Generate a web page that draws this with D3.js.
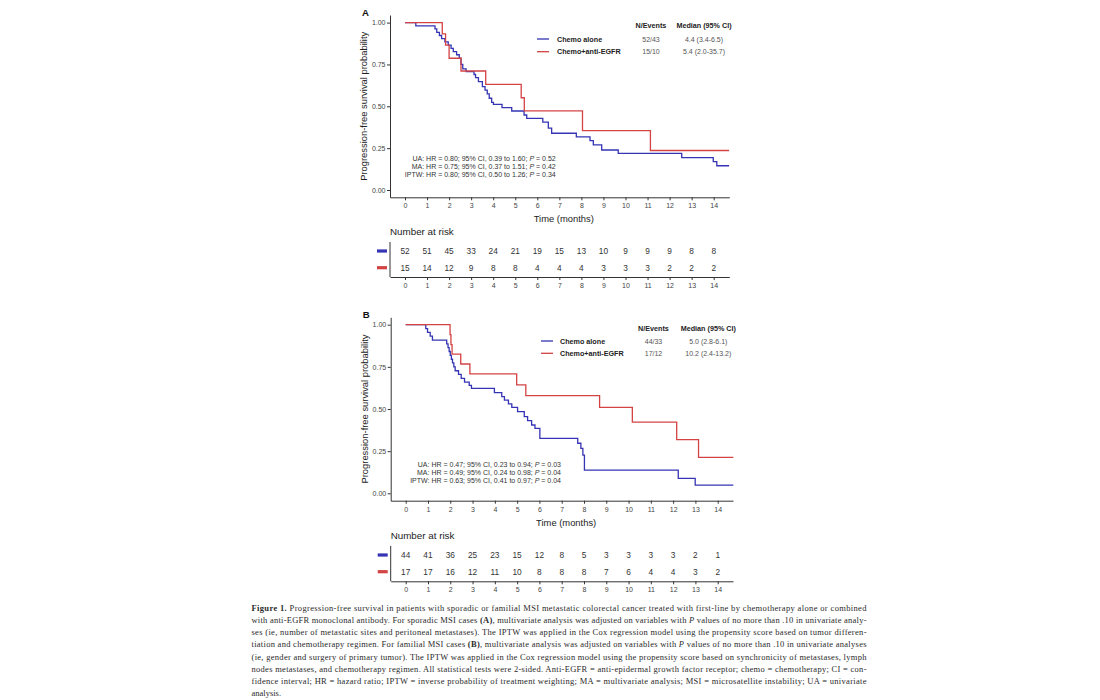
<!DOCTYPE html>
<html>
<head>
<meta charset="utf-8">
<script src="https://cdn.jsdelivr.net/npm/d3@7"></script>
<style>
  body { margin: 0; background: #fff; }
  svg text { font-family: "Liberation Sans", Arial, sans-serif; }
</style>
</head>
<body>
<svg id="fig" width="1100" height="700"></svg>
<script>
// ---- data ----
const timeTicks = [0, 1, 2, 3, 4, 5, 6, 7, 8, 9, 10, 11, 12, 13, 14];
const probTicks = [0, 0.25, 0.5, 0.75, 1];
const groups = ["Chemo alone", "Chemo+anti-EGFR"];

// panel A (sporadic MSI)
const aChemoTime = [0, 0.49, 1.36, 1.44, 1.56, 1.66, 1.81, 1.96, 2.09, 2.19, 2.34, 2.46, 2.54, 2.62, 2.77, 3.13, 3.20, 3.33, 3.51, 3.63, 3.73, 3.82, 3.93, 4.01, 4.40, 4.84, 5.40, 5.52, 6.25, 6.50, 6.65, 7.77, 8.39, 8.54, 8.92, 9.67, 12.55, 13.98, 14.14, 14.70];
const aChemoSurv = [1, 0.981, 0.962, 0.942, 0.923, 0.904, 0.885, 0.865, 0.846, 0.827, 0.808, 0.788, 0.75, 0.723, 0.707, 0.69, 0.671, 0.647, 0.617, 0.597, 0.574, 0.548, 0.523, 0.512, 0.492, 0.472, 0.448, 0.428, 0.405, 0.37, 0.339, 0.317, 0.295, 0.269, 0.239, 0.219, 0.193, 0.169, 0.145, 0.145];
const aEgfrTime = [0, 1.69, 1.84, 2.0, 2.54, 3.66, 5.27, 5.41, 8.05, 11.13, 14.70];
const aEgfrSurv = [1, 0.933, 0.866, 0.787, 0.711, 0.631, 0.551, 0.473, 0.355, 0.236, 0.236];
const aEvents = ["52/43", "15/10"];
const aMedian = ["4.4 (3.4-6.5)", "5.4 (2.0-35.7)"];
const aRiskChemo = [52, 51, 45, 33, 24, 21, 19, 15, 13, 10, 9, 9, 9, 8, 8];
const aRiskEgfr = [15, 14, 12, 9, 8, 8, 4, 4, 4, 3, 3, 3, 2, 2, 2];
const aStats = [
  "UA: HR = 0.80; 95% CI, 0.39 to 1.60; _P_ = 0.52",
  "MA: HR = 0.75; 95% CI, 0.37 to 1.51; _P_ = 0.42",
  "IPTW: HR = 0.80; 95% CI, 0.50 to 1.26; _P_ = 0.34"
];

// panel B (familial MSI)
const bChemoTime = [0, 0.90, 0.98, 1.10, 1.20, 1.84, 1.90, 1.95, 2.00, 2.05, 2.10, 2.16, 2.22, 2.37, 2.49, 2.64, 2.85, 2.95, 3.98, 4.31, 4.43, 4.61, 4.76, 5.02, 5.32, 5.47, 5.65, 5.80, 6.02, 7.72, 7.86, 7.95, 8.02, 12.23, 12.99, 14.70];
const bChemoSurv = [1, 0.977, 0.955, 0.932, 0.909, 0.886, 0.864, 0.841, 0.818, 0.795, 0.773, 0.75, 0.727, 0.705, 0.682, 0.659, 0.64, 0.622, 0.597, 0.573, 0.553, 0.53, 0.51, 0.484, 0.455, 0.431, 0.405, 0.385, 0.326, 0.297, 0.267, 0.227, 0.138, 0.088, 0.049, 0.049];
const bEgfrTime = [0, 1.99, 2.03, 2.08, 2.47, 2.88, 4.98, 5.39, 8.70, 10.17, 12.16, 13.14, 14.70];
const bEgfrSurv = [1, 0.941, 0.882, 0.826, 0.767, 0.708, 0.643, 0.579, 0.51, 0.422, 0.318, 0.213, 0.213];
const bEvents = ["44/33", "17/12"];
const bMedian = ["5.0 (2.8-6.1)", "10.2 (2.4-13.2)"];
const bRiskChemo = [44, 41, 36, 25, 23, 15, 12, 8, 5, 3, 3, 3, 3, 2, 1];
const bRiskEgfr = [17, 17, 16, 12, 11, 10, 8, 8, 8, 7, 6, 4, 4, 3, 2];
const bStats = [
  "UA: HR = 0.47; 95% CI, 0.23 to 0.94; _P_ = 0.03",
  "MA: HR = 0.49; 95% CI, 0.24 to 0.98; _P_ = 0.04",
  "IPTW: HR = 0.63; 95% CI, 0.41 to 0.97; _P_ = 0.04"
];

const captionLines = [
  "**Figure 1.** Progression-free survival in patients with sporadic or familial MSI metastatic colorectal cancer treated with first-line by chemotherapy alone or combined",
  "with anti-EGFR monoclonal antibody. For sporadic MSI cases **(A)**, multivariate analysis was adjusted on variables with _P_ values of no more than .10 in univariate analy-",
  "ses (ie, number of metastatic sites and peritoneal metastases). The IPTW was applied in the Cox regression model using the propensity score based on tumor differen-",
  "tiation and chemotherapy regimen. For familial MSI cases **(B)**, multivariate analysis was adjusted on variables with _P_ values of no more than .10 in univariate analyses",
  "(ie, gender and surgery of primary tumor). The IPTW was applied in the Cox regression model using the propensity score based on synchronicity of metastases, lymph",
  "nodes metastases, and chemotherapy regimen. All statistical tests were 2-sided. Anti-EGFR = anti-epidermal growth factor receptor; chemo = chemotherapy; CI = con-",
  "fidence interval; HR = hazard ratio; IPTW = inverse probability of treatment weighting; MA = multivariate analysis; MSI = microsatellite instability; UA = univariate",
  "analysis."
];

const colors = ["#3434b4", "#d44343"];
const svg = d3.select("#fig");

// writes a string with **bold** and _italic_ runs as tspans
function richText(sel, str) {
  str.split(/(\*\*[^*]+\*\*|_[^_]+_)/).filter(s => s.length).forEach(s => {
    const t = sel.append("tspan");
    if (s.startsWith("**")) t.attr("font-weight", "bold").text(s.slice(2, -2));
    else if (s.startsWith("_")) t.attr("font-style", "italic").text(s.slice(1, -1));
    else t.text(s);
  });
}

function styleAxis(ax) {
  ax.select(".domain").attr("stroke", "#333").attr("stroke-width", 1);
  ax.selectAll(".tick line").attr("stroke", "#333");
  ax.selectAll(".tick text").attr("fill", "#444").attr("font-size", 7)
    .attr("font-family", "Liberation Sans, Arial, sans-serif");
}

function drawPanel(p) {
  const g = svg.append("g");
  const x0 = d3.scaleLinear().domain([0, 14]).range([p.x0, p.x14]);
  const x = d3.scaleLinear().domain([x0.invert(p.left), x0.invert(p.right)]).range([p.left, p.right]);
  const y0 = d3.scaleLinear().domain([0, 1]).range([p.y0, p.y1]);
  const y = d3.scaleLinear().domain([y0.invert(p.bottom), y0.invert(p.top)]).range([p.bottom, p.top]);

  // curves
  const line = d3.line().x(d => x(d[0])).y(d => y(d[1])).curve(d3.curveStepAfter);
  p.curves.forEach((c, i) => {
    g.append("path")
      .datum(d3.zip(c.time, c.surv))
      .attr("d", line)
      .attr("fill", "none")
      .attr("stroke", colors[i])
      .attr("stroke-width", 1.3);
  });

  // axes
  const xa = g.append("g").attr("transform", `translate(0,${p.bottom})`)
    .call(d3.axisBottom(x).tickValues(timeTicks).tickSize(3).tickSizeOuter(0).tickPadding(3));
  styleAxis(xa);
  const ya = g.append("g").attr("transform", `translate(${p.left},0)`)
    .call(d3.axisLeft(y).tickValues(probTicks).tickFormat(d3.format(".2f")).tickSize(3).tickSizeOuter(0).tickPadding(1.5));
  styleAxis(ya);

  g.append("text")
    .attr("transform", `translate(${p.left - 23},${y(0.5)}) rotate(-90)`)
    .attr("text-anchor", "middle").attr("font-size", 9.4).attr("fill", "#222")
    .text("Progression-free survival probability");
  g.append("text")
    .attr("x", x(7.2)).attr("y", p.bottom + 25)
    .attr("text-anchor", "middle").attr("font-size", 9.4).attr("fill", "#222")
    .text("Time (months)");
  g.append("text")
    .attr("x", p.left - 28).attr("y", p.top + 1)
    .attr("font-size", 9.6).attr("font-weight", "bold").attr("fill", "#111")
    .text(p.label);

  // legend with N/events and median
  const lg = g.append("g").attr("font-size", 7.2);
  lg.append("text").attr("x", p.colN).attr("y", p.legHead + 2.5).attr("text-anchor", "middle")
    .attr("font-weight", "bold").attr("fill", "#222").text("N/Events");
  lg.append("text").attr("x", p.colM).attr("y", p.legHead + 2.5).attr("text-anchor", "middle")
    .attr("font-weight", "bold").attr("fill", "#222").text("Median (95% CI)");
  groups.forEach((name, i) => {
    const yy = p.legRows[i];
    lg.append("line").attr("x1", p.legLine).attr("x2", p.legLine + 12)
      .attr("y1", yy).attr("y2", yy).attr("stroke", colors[i]).attr("stroke-width", 1.3);
    lg.append("text").attr("x", p.legText).attr("y", yy + 2.5)
      .attr("font-weight", "bold").attr("fill", "#222").text(name);
    lg.append("text").attr("x", p.colN).attr("y", yy + 2.5).attr("text-anchor", "middle")
      .attr("font-family", "Lato, sans-serif").attr("font-size", 7).attr("fill", "#555").text(p.events[i]);
    lg.append("text").attr("x", p.colM).attr("y", yy + 2.5).attr("text-anchor", "middle")
      .attr("font-family", "Lato, sans-serif").attr("font-size", 7).attr("fill", "#555").text(p.median[i]);
  });

  // hazard ratio annotation
  p.stats.forEach((s, i) => {
    const t = g.append("text").attr("x", p.statX).attr("y", p.statY + i * 7.8)
      .attr("text-anchor", "end").attr("font-size", 7).attr("fill", "#333");
    richText(t, s);
  });

  // number at risk table
  const ry = d3.scalePoint().domain(groups).range(p.riskRows);
  g.append("text").attr("x", p.left).attr("y", p.riskTitle + 3.5)
    .attr("font-size", 9.8).attr("fill", "#222").text("Number at risk");
  const ta = g.append("g").attr("transform", `translate(0,${p.riskBottom})`)
    .call(d3.axisBottom(x).tickValues(timeTicks).tickSize(3).tickSizeOuter(0).tickPadding(3));
  styleAxis(ta);
  g.append("line").attr("x1", p.left).attr("x2", p.left)
    .attr("y1", p.riskRows[0] - 9).attr("y2", p.riskBottom).attr("stroke", "#333");
  p.risk.forEach((row, i) => {
    g.append("rect").attr("x", p.left - 13).attr("y", ry(groups[i]) - 1.6)
      .attr("width", 10).attr("height", 3.2).attr("fill", colors[i]);
    g.selectAll(null).data(row).enter().append("text")
      .attr("x", (d, k) => x(timeTicks[k])).attr("y", ry(groups[i]) + 3)
      .attr("text-anchor", "middle").attr("font-size", 8.3).attr("fill", "#333")
      .text(d => d);
  });
}

drawPanel({
  label: "A", left: 390, right: 729.3, x0: 405, x14: 713.7,
  top: 15, bottom: 197.3, y0: 190, y1: 22.6,
  curves: [{ time: aChemoTime, surv: aChemoSurv }, { time: aEgfrTime, surv: aEgfrSurv }],
  legHead: 25.7, legRows: [39, 51.7], legLine: 537, legText: 557, colN: 651, colM: 704,
  events: aEvents, median: aMedian,
  stats: aStats, statX: 555.7, statY: 161,
  riskTitle: 231.7, riskRows: [251, 267.7], riskBottom: 277,
  risk: [aRiskChemo, aRiskEgfr]
});

drawPanel({
  label: "B", left: 390.7, right: 733, x0: 405.7, x14: 717.7,
  top: 317.3, bottom: 500.7, y0: 493.3, y1: 324.7,
  curves: [{ time: bChemoTime, surv: bChemoSurv }, { time: bEgfrTime, surv: bEgfrSurv }],
  legHead: 328.5, legRows: [341, 353.3], legLine: 541, legText: 560, colN: 653.5, colM: 708.3,
  events: bEvents, median: bMedian,
  stats: bStats, statX: 561, statY: 467,
  riskTitle: 535.3, riskRows: [555, 571.7], riskBottom: 581.3,
  risk: [bRiskChemo, bRiskEgfr]
});

// caption
const cap = svg.append("g").attr("font-size", 8.5).attr("fill", "#2a2a2a");
captionLines.forEach((s, i) => {
  const t = cap.append("text").attr("x", 251.5).attr("y", 611 + i * 12.15)
    .style("font-family", "Liberation Serif, serif");
  if (i < captionLines.length - 1) t.attr("textLength", 615).attr("lengthAdjust", "spacing");
  richText(t, s);
});
</script>
</body>
</html>
